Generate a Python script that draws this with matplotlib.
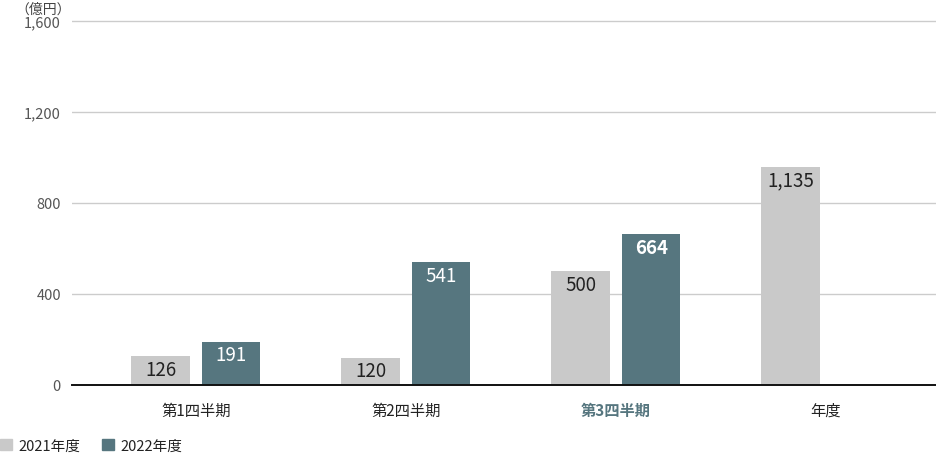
import matplotlib
matplotlib.use("Agg")
import matplotlib.pyplot as plt
from matplotlib.patches import Patch
import numpy as np

plt.rcParams['font.family'] = ['Noto Sans CJK JP', 'DejaVu Sans']

categories = ["第1四半期", "第2四半期", "第3四半期", "年度"]
series_names = ["2021年度", "2022年度"]
fy2021 = [126, 120, 500, 960]          # drawn bar heights
fy2021_labels = ["126", "120", "500", "1,135"]
fy2022 = [191, 541, 664, np.nan]
fy2022_labels = ["191", "541", "664", ""]
yticks = [0, 400, 800, 1200, 1600]
ytick_labels = ["0", "400", "800", "1,200", "1,600"]
unit_label = "（億円）"

c21 = "#c9c9c9"
c22 = "#56767f"

fig = plt.figure(figsize=(9.36, 4.56), dpi=100)
ax = fig.add_axes([72/936, 70/456, 864/936, 384.5/456])

x = np.arange(len(categories))
w = 0.279
off = 0.168
b1 = ax.bar(x - off, fy2021, w, color=c21, zorder=3)
b2 = ax.bar(x + off, fy2022, w, color=c22, zorder=3)

for i, r in enumerate(b1):
    ax.annotate(fy2021_labels[i], (r.get_x() + r.get_width()/2, r.get_height()),
                xytext=(0, -13.5), textcoords="offset points", ha="center",
                va="baseline", fontsize=13.5, color="#222222", zorder=4)
for i, r in enumerate(b2):
    if not fy2022_labels[i]:
        continue
    bold = (i == 2)
    ax.annotate(fy2022_labels[i], (r.get_x() + r.get_width()/2, r.get_height()),
                xytext=(0, -13.5), textcoords="offset points", ha="center",
                va="baseline", fontsize=13.5, color="white",
                fontweight="bold" if bold else "normal", zorder=4)

ax.set_xlim(-0.590, -0.590 + 864/210)
ax.set_ylim(0, 1690)
ax.set_yticks(yticks)
ax.set_yticklabels(ytick_labels)
ax.set_xticks(x)
ax.set_xticklabels(categories)
ax.tick_params(axis="y", length=0, pad=8, labelsize=10.5, labelcolor="#555555")
ax.tick_params(axis="x", length=0, pad=12, labelsize=11, labelcolor="#222222")
lbl = ax.get_xticklabels()[2]
lbl.set_color(c22)
lbl.set_fontweight("bold")

ax.grid(axis="y", color="#cccccc", linewidth=1.0, zorder=0)
ax.set_axisbelow(True)
for s in ["top", "right", "left"]:
    ax.spines[s].set_visible(False)
ax.spines["bottom"].set_color("#111111")
ax.spines["bottom"].set_linewidth(1.4)
ax.spines["bottom"].set_zorder(5)

fig.text(15/936, 1 - 10/456, unit_label, ha="left", va="center", fontsize=10, color="#444444")

handles = [Patch(color=c21), Patch(color=c22)]
fig.legend(handles, series_names, loc="lower left", bbox_to_anchor=(0, 0.005), ncol=2,
           frameon=False, fontsize=10.5, handlelength=0.85, handleheight=0.85,
           handletextpad=0.4, columnspacing=1.5, borderpad=0.0, borderaxespad=0.0,
           labelcolor="#222222")

fig.savefig("out.png", dpi=100)
